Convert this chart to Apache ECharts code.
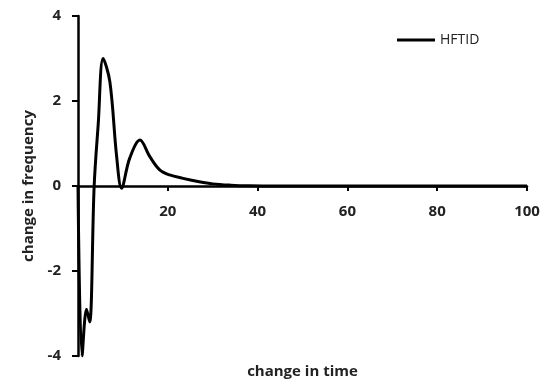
<!DOCTYPE html>
<html>
<head>
<meta charset="utf-8">
<script src="https://cdn.jsdelivr.net/npm/echarts@6/dist/echarts.min.js"></script>
<style>
  html, body { margin: 0; padding: 0; background: #fff; }
  #chart { width: 549px; height: 383px; }
</style>
</head>
<body>
<div id="chart"></div>
<script>
// time / frequency pairs
const timeVals = [0, 0.9, 1.9, 2.6, 3.6, 4.5, 5.6, 7.1, 8.6, 9.7, 11.5, 13.8, 16, 18.2, 20.4, 23.4, 27, 30, 34, 38, 45, 60, 80, 100];
const freqVals = [0, -4.0, -2.9, -3.2, 0, 1.45, 3.0, 2.45, 0.7, -0.05, 0.65, 1.08, 0.69, 0.38, 0.26, 0.18, 0.1, 0.05, 0.02, 0.005, 0, 0, 0, 0];
const xTicks = [0, 20, 40, 60, 80, 100];
const yTicks = [-4, -2, 0, 2, 4];
const seriesName = "HFTID";

const chart = echarts.init(document.getElementById("chart"));
const labelFont = { fontFamily: "Open Sans", fontWeight: "bold", fontSize: 15, color: "#222" };

// grid 78..527 x 16..356; the x axis sits on y = 0, half way up
const gridH = 383 - 16 - 27;

chart.setOption({
  animation: false,
  grid: { left: 78, right: 22, top: 16, bottom: 27, containLabel: false, outerBoundsMode: "none" },
  legend: {
    data: [seriesName],
    left: 392,
    top: 28,
    itemWidth: 38,
    itemHeight: 14,
    itemGap: 4,
    icon: "path://M0,6L38,6L38,9L0,9Z",
    textStyle: { fontFamily: "Open Sans", fontSize: 14, color: "#222" }
  },
  xAxis: {
    type: "value",
    min: xTicks[0],
    max: xTicks[xTicks.length - 1],
    interval: 20,
    position: "bottom",
    offset: -gridH / 2,
    name: "change in time",
    nameLocation: "middle",
    nameGap: 178,
    nameTextStyle: labelFont,
    axisLine: { onZero: false, lineStyle: { color: "#000", width: 2.5 } },
    axisTick: { show: true, length: 5, lineStyle: { color: "#000", width: 2 } },
    axisLabel: Object.assign({ margin: 18, formatter: v => (v === 0 ? "" : v) }, labelFont),
    splitLine: { show: false }
  },
  yAxis: {
    type: "value",
    min: yTicks[0],
    max: yTicks[yTicks.length - 1],
    interval: 2,
    name: "change in frequency",
    nameLocation: "middle",
    nameGap: 41,
    nameTextStyle: labelFont,
    axisLine: { onZero: false, lineStyle: { color: "#000", width: 2.5 } },
    axisTick: { show: true, length: 6, lineStyle: { color: "#000", width: 2 } },
    axisLabel: Object.assign({ margin: 17 }, labelFont),
    splitLine: { show: false }
  },
  series: [{
    name: seriesName,
    type: "line",
    data: timeVals.map((t, i) => [t, freqVals[i]]),
    smooth: 0.35,
    showSymbol: false,
    lineStyle: { color: "#000", width: 3 },
    itemStyle: { color: "#000" }
  }]
});
</script>
</body>
</html>
